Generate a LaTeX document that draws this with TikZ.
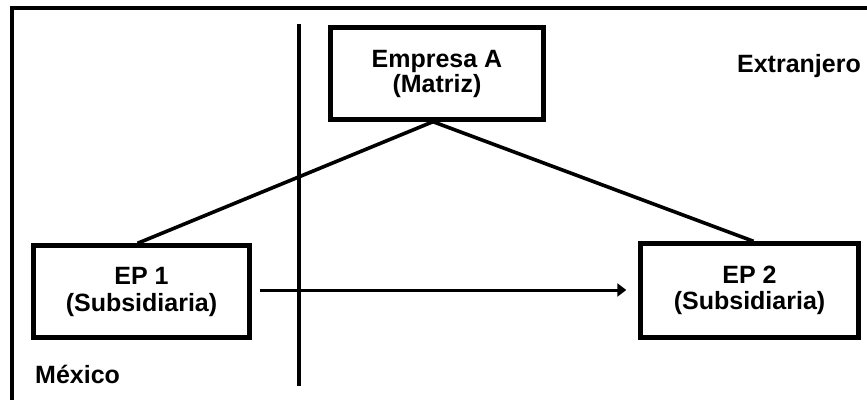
\documentclass[tikz,border=0pt]{standalone}
\usepackage{fontspec}
\setmainfont{Liberation Sans}
\usetikzlibrary{arrows.meta}
\begin{document}
\begin{tikzpicture}[x=1pt,y=-1pt,
  box/.style={draw=black, line width=4.4pt, fill=white, align=center, inner sep=0pt,
    font=\bfseries\fontsize{25}{26}\selectfont},
  lbl/.style={inner sep=0pt, font=\bfseries\fontsize{25}{26}\selectfont},
  conn/.style={draw=black, line width=3.6pt},
  arr/.style={draw=black, line width=3pt, -{Triangle[length=9pt,width=13pt]}}]
\useasboundingbox (0,0) rectangle (867,400);
\fill[white] (0,0) rectangle (867,400);
% outer frame (only top and left edges visible)
\draw[line width=4pt] (867,7.5) -- (12,7.5) -- (12,400);
% divider
\coordinate (dtop) at (299,24);
\coordinate (dbot) at (299,386);
\draw[conn] (dtop) -- (dbot);
% boxes
\node[box, minimum width=213pt, minimum height=92pt] (A) at (437,73.5) {Empresa A\\[-1pt](Matriz)};
\node[box, minimum width=216pt, minimum height=92pt] (ep1) at (141.5,291.5) {EP 1\\[1pt](Subsidiaria)};
\node[box, minimum width=218pt, minimum height=94pt] (ep2) at (749.5,290.5) {EP 2\\(Subsidiaria)};
% connectors
\draw[conn] ([xshift=-4pt]A.south) -- ([xshift=-4pt]ep1.north);
\draw[conn] ([xshift=-4pt]A.south) -- ([xshift=4pt]ep2.north);
\draw[arr, shorten <=8pt, shorten >=12pt] ([yshift=1.5pt]ep1.east) -- ([yshift=1.5pt]ep1.east -| ep2.west);
% labels
\node[lbl, anchor=base west] (mex) at (35,383) {México};
\node[lbl, anchor=base east] (ext) at (861,72) {Extranjero};
\end{tikzpicture}
\end{document}
